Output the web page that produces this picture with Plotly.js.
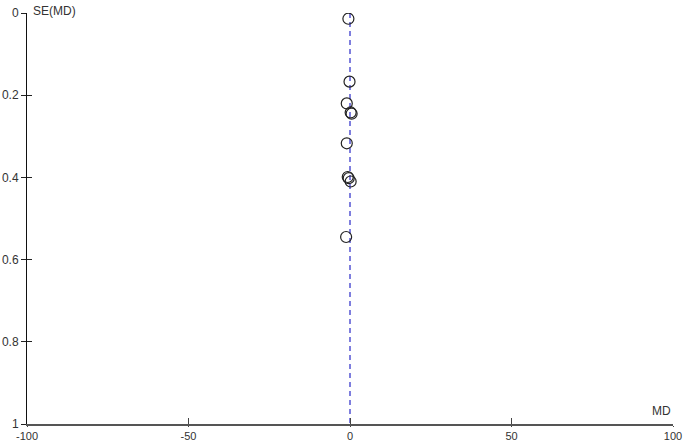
<!DOCTYPE html>
<html>
<head>
<meta charset="utf-8">
<script src="https://cdn.plot.ly/plotly-3.0.1.min.js"></script>
<style>
  html, body { margin: 0; padding: 0; background: #fff; }
  #chart { width: 685px; height: 444px; }
</style>
</head>
<body>
<div id="chart"></div>
<script>
// study estimates
var md = [-0.5, -0.15, -1.0, 0.2, 0.5, -1.0, -0.7, -0.4, 0.2, -1.2];
var se = [0.014, 0.167, 0.22, 0.242, 0.245, 0.317, 0.399, 0.402, 0.41, 0.545];

var pooled = 0;
var seRange = [0, 1];

var xTicks = [-100, -50, 0, 50, 100];
var yTicks = [0, 0.2, 0.4, 0.6, 0.8, 1];

var studies = {
  x: md,
  y: se,
  mode: 'markers',
  type: 'scatter',
  marker: {
    symbol: 'circle-open',
    size: 11,
    color: '#222',
    line: { width: 1.2, color: '#222' }
  },
  hoverinfo: 'x+y',
  showlegend: false
};

var pooledLine = {
  x: [pooled, pooled],
  y: seRange,
  mode: 'lines',
  type: 'scatter',
  line: { color: '#3a3acc', width: 1.3, dash: '5px,4px' },
  hoverinfo: 'skip',
  showlegend: false
};

var tickFont = { family: 'Liberation Sans, Arial, sans-serif', size: 12, color: '#333' };
var xTickFont = { family: 'Liberation Sans, Arial, sans-serif', size: 11, color: '#333' };

var layout = {
  width: 685,
  height: 444,
  margin: { l: 27, r: 12, t: 13, b: 20 },
  paper_bgcolor: '#fff',
  plot_bgcolor: '#fff',
  font: tickFont,
  xaxis: {
    range: [-100, 100],
    tickvals: xTicks,
    ticktext: xTicks.map(String),
    ticks: 'outside',
    ticklen: 1,
    tickcolor: '#444',
    tickwidth: 1,
    showline: true,
    linecolor: '#555',
    linewidth: 2,
    showgrid: false,
    zeroline: false,
    tickfont: xTickFont
  },
  yaxis: {
    range: [1, 0],
    tickvals: yTicks,
    ticktext: yTicks.map(String),
    ticks: 'outside',
    ticklen: 5,
    tickcolor: '#222',
    tickwidth: 1,
    showline: true,
    linecolor: '#111',
    linewidth: 1,
    showgrid: false,
    zeroline: false,
    tickfont: tickFont
  },
  // second pair of axes gives ticks that cross the axis lines
  xaxis2: {
    overlaying: 'x',
    matches: 'x',
    anchor: 'y',
    side: 'bottom',
    tickvals: xTicks,
    ticks: 'inside',
    ticklen: 6,
    tickcolor: '#444',
    showticklabels: false,
    showline: false,
    showgrid: false,
    zeroline: false
  },
  yaxis2: {
    overlaying: 'y',
    matches: 'y',
    anchor: 'x',
    side: 'left',
    tickvals: yTicks,
    ticks: 'inside',
    ticklen: 5,
    tickcolor: '#222',
    showticklabels: false,
    showline: false,
    showgrid: false,
    zeroline: false
  },
  annotations: [
    {
      text: 'SE(MD)',
      xref: 'paper', yref: 'paper',
      x: 0, y: 1,
      xanchor: 'left', yanchor: 'bottom',
      xshift: 4, yshift: -7,
      showarrow: false,
      font: tickFont
    },
    {
      text: 'MD',
      xref: 'paper', yref: 'paper',
      x: 1, y: 0,
      xanchor: 'right', yanchor: 'bottom',
      xshift: 0, yshift: 4,
      showarrow: false,
      font: tickFont
    }
  ]
};

var ghost = { x: [null], y: [null], xaxis: 'x2', yaxis: 'y2', type: 'scatter', showlegend: false, hoverinfo: 'skip' };

Plotly.newPlot('chart', [pooledLine, studies, ghost], layout, { displayModeBar: false, staticPlot: true });
</script>
</body>
</html>
